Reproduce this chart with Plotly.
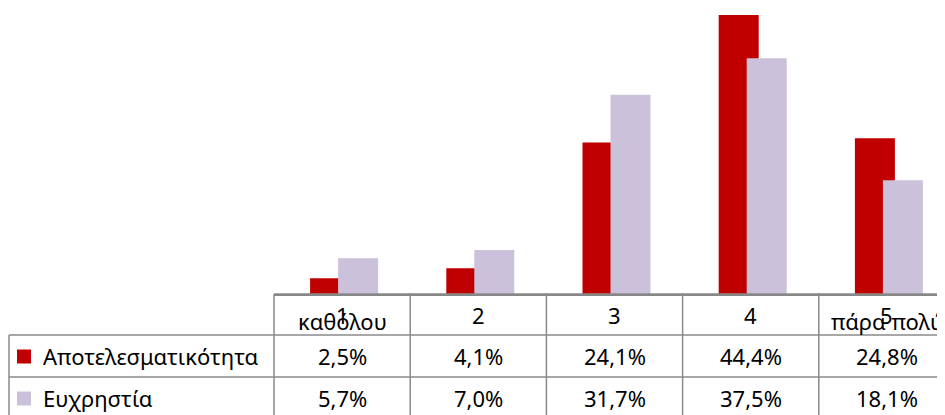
import plotly.graph_objects as go

# ---- data ----
categories = ["1", "2", "3", "4", "5"]
category_words = ["καθόλου", "", "", "", "πάρα πολύ"]
series_names = ["Αποτελεσματικότητα", "Ευχρηστία"]
effectiveness = [2.5, 4.1, 24.1, 44.4, 24.8]
usability = [5.7, 7.0, 31.7, 37.5, 18.1]
colors = ["#C00000", "#CCC1DA"]

# ---- layout constants (page pixels; figure sits at page offset OFF) ----
W, H = 945, 415
OFF = 8                            # browser body margin
PLOT_L, PLOT_B = 274, 294          # plot area left edge / axis line (page px)
CAT_PX = 136.2                     # pixel width of one category
PX_PER_PCT = 6.285
ROW_LINES = [294, 335, 377, 419]   # table horizontal lines (page px)
LEG_LEFT = 9
FONT = "Noto Sans"
FS = 22
LINE_COL = "#8a8a8a"

plot_w = W - PLOT_L
plot_h = PLOT_B - OFF
xmin = -0.5
xmax = xmin + plot_w / CAT_PX
ymax = plot_h / PX_PER_PCT

def px_x(px):
    return (px - PLOT_L) / plot_w

def px_y(py):
    return (PLOT_B - py) / plot_h

def data_x(v):
    return (v - xmin) / (xmax - xmin)

bar_w = 40 / CAT_PX
offsets = [-32 / CAT_PX, -4 / CAT_PX]
xs = list(range(len(categories)))

fig = go.Figure()
for name, vals, col, off in zip(series_names, [effectiveness, usability], colors, offsets):
    fig.add_trace(go.Bar(x=xs, y=vals, name=name, marker=dict(color=col, line=dict(width=0)),
                         width=bar_w, offset=off, showlegend=False, hoverinfo="skip"))

shapes = []
line = dict(color=LINE_COL, width=1.5)
for i, ry in enumerate(ROW_LINES):
    x0 = px_x(PLOT_L) if i == 0 else px_x(LEG_LEFT)
    shapes.append(dict(type="line", xref="paper", yref="paper", x0=x0, x1=1.02,
                       y0=px_y(ry), y1=px_y(ry), line=line))
for i in range(len(categories) + 1):
    xp = data_x(i - 0.5)
    if xp > 1:
        continue
    shapes.append(dict(type="line", xref="paper", yref="paper", x0=xp, x1=xp,
                       y0=px_y(ROW_LINES[0] - 1) if i > 0 else px_y(ROW_LINES[0]),
                       y1=px_y(H + 5), line=line))
shapes.append(dict(type="line", xref="paper", yref="paper", x0=px_x(LEG_LEFT), x1=px_x(LEG_LEFT),
                   y0=px_y(ROW_LINES[1]), y1=px_y(H + 5), line=line))
for r, col in enumerate(colors):
    cy = (ROW_LINES[r + 1] + ROW_LINES[r + 2]) / 2
    shapes.append(dict(type="rect", xref="paper", yref="paper",
                       x0=px_x(17), x1=px_x(31), y0=px_y(cy - 6.5), y1=px_y(cy + 7.5),
                       fillcolor=col, line=dict(width=0)))

annotations = []
hdr_digit_y = 315
hdr_word_y = 321
for i, (c, wd) in enumerate(zip(categories, category_words)):
    annotations.append(dict(x=i, xref="x", y=px_y(hdr_digit_y), yref="paper", text=c,
                            showarrow=False, xanchor="center", yanchor="middle",
                            font=dict(family=FONT, size=FS, color="black")))
    if wd:
        annotations.append(dict(x=i, xref="x", y=px_y(hdr_word_y), yref="paper", text=wd,
                                showarrow=False, xanchor="center", yanchor="middle",
                                font=dict(family=FONT, size=FS, color="black")))

def fmt(v):
    return f"{v:.1f}%".replace(".", ",")

for r, (name, vals) in enumerate(zip(series_names, [effectiveness, usability])):
    cy = (ROW_LINES[r + 1] + ROW_LINES[r + 2]) / 2
    annotations.append(dict(x=px_x(41), xref="paper", y=px_y(cy), yref="paper", text=name,
                            showarrow=False, xanchor="left", yanchor="middle",
                            font=dict(family=FONT, size=FS, color="black")))
    for i, v in enumerate(vals):
        annotations.append(dict(x=i, xref="x", y=px_y(cy), yref="paper", text=fmt(v),
                                showarrow=False, xanchor="center", yanchor="middle",
                                font=dict(family=FONT, size=FS, color="black")))

fig.update_layout(
    width=W, height=H,
    margin=dict(l=PLOT_L - OFF, r=OFF, t=0, b=H - plot_h, pad=0),
    paper_bgcolor="white", plot_bgcolor="white",
    barmode="overlay",
    xaxis=dict(range=[xmin, xmax], showgrid=False, zeroline=False, showticklabels=False,
               showline=True, linecolor="#868686", linewidth=2, ticks="", fixedrange=True),
    yaxis=dict(range=[0, ymax], showgrid=False, zeroline=False, showticklabels=False,
               showline=False, ticks="", fixedrange=True),
    shapes=shapes, annotations=annotations,
)

fig.write_html("out.html")
